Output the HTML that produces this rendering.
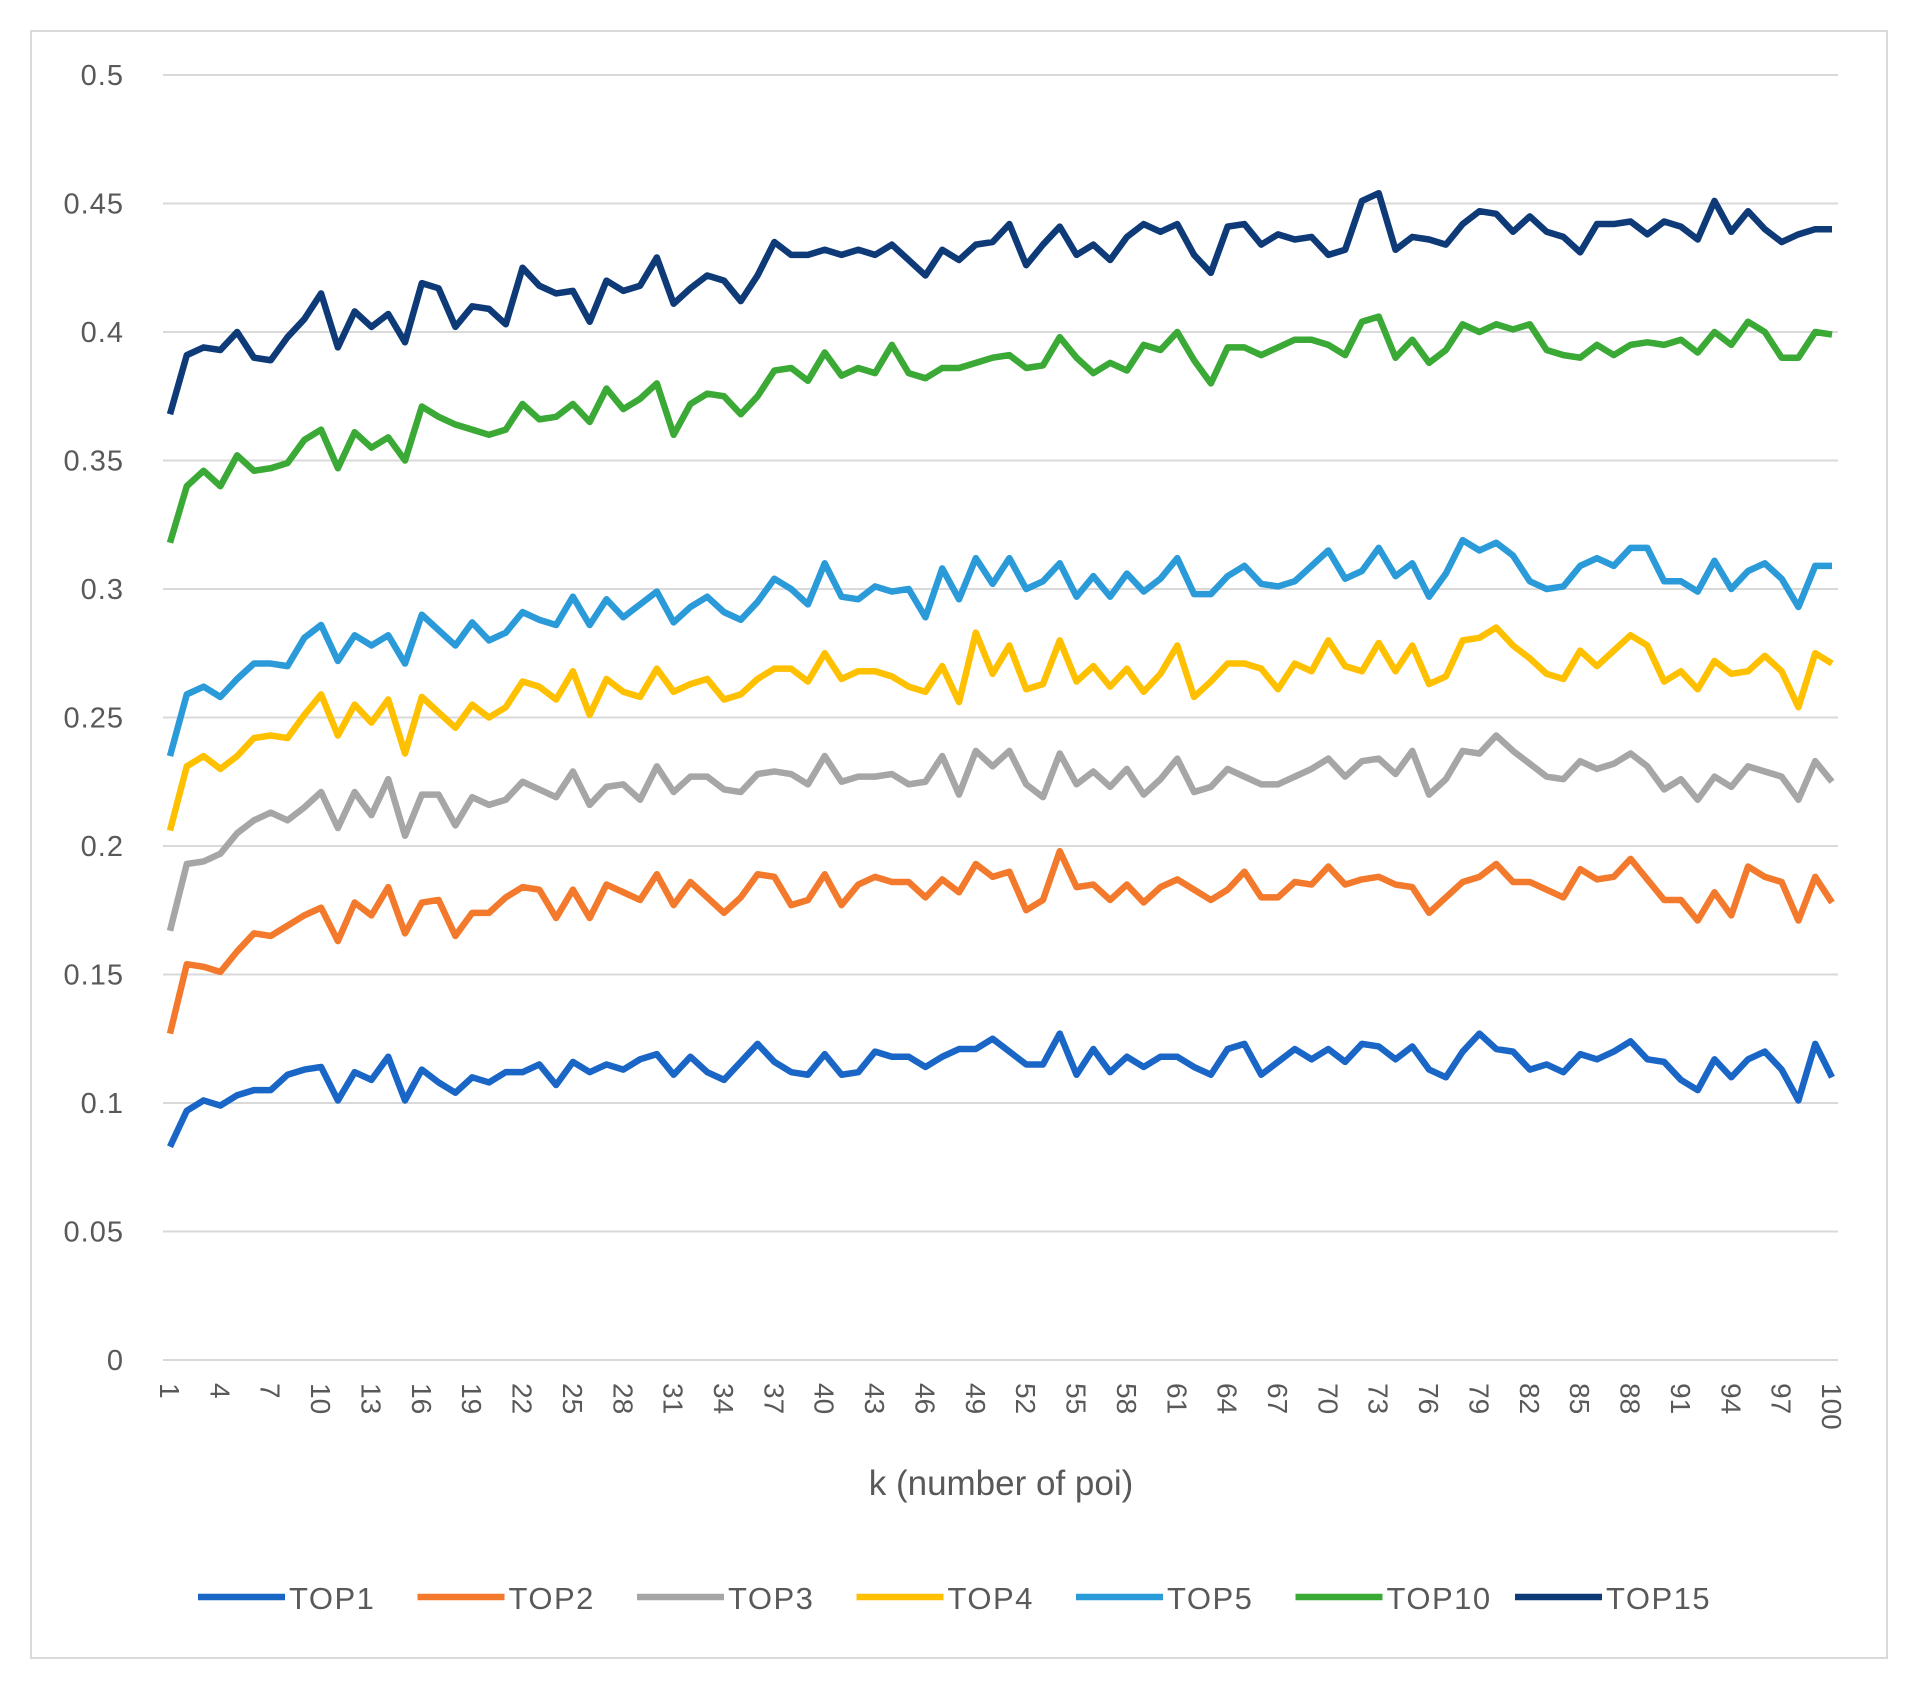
<!DOCTYPE html>
<html><head><meta charset="utf-8"><style>
body{margin:0;background:#fff;}
svg text{font-family:"Liberation Sans",sans-serif;fill:#595959;}
</style></head><body>
<svg id="chart" width="1909" height="1685" viewBox="0 0 1909 1685" xmlns="http://www.w3.org/2000/svg">
<rect x="31" y="31" width="1856" height="1627" fill="#fff" stroke="#d9d9d9" stroke-width="2"/>
<g id="grid"></g><g id="ylabels"></g><g id="xlabels"></g><g id="series"></g>
<text x="1001" y="1495" font-size="35" text-anchor="middle">k (number of poi)</text>
<g id="legend"></g>
</svg>
<script>
const seriesNames=["TOP1","TOP2","TOP3","TOP4","TOP5","TOP10","TOP15"];
const yTicks=[0,0.05,0.1,0.15,0.2,0.25,0.3,0.35,0.4,0.45,0.5];
const yTickLabels=["0","0.05","0.1","0.15","0.2","0.25","0.3","0.35","0.4","0.45","0.5"];
const top1=[.083,.097,.101,.099,.103,.105,.105,.111,.113,.114,.101,.112,.109,.118,.101,.113,.108,.104,.110,.108,.112,.112,.115,.107,.116,.112,.115,.113,.117,.119,.111,.118,.112,.109,.116,.123,.116,.112,.111,.119,.111,.112,.120,.118,.118,.114,.118,.121,.121,.125,.120,.115,.115,.127,.111,.121,.112,.118,.114,.118,.118,.114,.111,.121,.123,.111,.116,.121,.117,.121,.116,.123,.122,.117,.122,.113,.110,.120,.127,.121,.120,.113,.115,.112,.119,.117,.120,.124,.117,.116,.109,.105,.117,.110,.117,.120,.113,.101,.123,.110];
const top2=[.127,.154,.153,.151,.159,.166,.165,.169,.173,.176,.163,.178,.173,.184,.166,.178,.179,.165,.174,.174,.180,.184,.183,.172,.183,.172,.185,.182,.179,.189,.177,.186,.180,.174,.180,.189,.188,.177,.179,.189,.177,.185,.188,.186,.186,.180,.187,.182,.193,.188,.190,.175,.179,.198,.184,.185,.179,.185,.178,.184,.187,.183,.179,.183,.190,.180,.180,.186,.185,.192,.185,.187,.188,.185,.184,.174,.180,.186,.188,.193,.186,.186,.183,.180,.191,.187,.188,.195,.187,.179,.179,.171,.182,.173,.192,.188,.186,.171,.188,.178];
const top3=[.167,.193,.194,.197,.205,.210,.213,.210,.215,.221,.207,.221,.212,.226,.204,.220,.220,.208,.219,.216,.218,.225,.222,.219,.229,.216,.223,.224,.218,.231,.221,.227,.227,.222,.221,.228,.229,.228,.224,.235,.225,.227,.227,.228,.224,.225,.235,.220,.237,.231,.237,.224,.219,.236,.224,.229,.223,.230,.220,.226,.234,.221,.223,.230,.227,.224,.224,.227,.230,.234,.227,.233,.234,.228,.237,.220,.226,.237,.236,.243,.237,.232,.227,.226,.233,.230,.232,.236,.231,.222,.226,.218,.227,.223,.231,.229,.227,.218,.233,.225];
const top4=[.206,.231,.235,.230,.235,.242,.243,.242,.251,.259,.243,.255,.248,.257,.236,.258,.252,.246,.255,.250,.254,.264,.262,.257,.268,.251,.265,.260,.258,.269,.260,.263,.265,.257,.259,.265,.269,.269,.264,.275,.265,.268,.268,.266,.262,.260,.270,.256,.283,.267,.278,.261,.263,.280,.264,.270,.262,.269,.260,.267,.278,.258,.264,.271,.271,.269,.261,.271,.268,.280,.270,.268,.279,.268,.278,.263,.266,.280,.281,.285,.278,.273,.267,.265,.276,.270,.276,.282,.278,.264,.268,.261,.272,.267,.268,.274,.268,.254,.275,.271];
const top5=[.235,.259,.262,.258,.265,.271,.271,.270,.281,.286,.272,.282,.278,.282,.271,.290,.284,.278,.287,.280,.283,.291,.288,.286,.297,.286,.296,.289,.294,.299,.287,.293,.297,.291,.288,.295,.304,.300,.294,.310,.297,.296,.301,.299,.300,.289,.308,.296,.312,.302,.312,.300,.303,.310,.297,.305,.297,.306,.299,.304,.312,.298,.298,.305,.309,.302,.301,.303,.309,.315,.304,.307,.316,.305,.310,.297,.306,.319,.315,.318,.313,.303,.300,.301,.309,.312,.309,.316,.316,.303,.303,.299,.311,.300,.307,.310,.304,.293,.309,.309];
const top10=[.318,.340,.346,.340,.352,.346,.347,.349,.358,.362,.347,.361,.355,.359,.350,.371,.367,.364,.362,.360,.362,.372,.366,.367,.372,.365,.378,.370,.374,.380,.360,.372,.376,.375,.368,.375,.385,.386,.381,.392,.383,.386,.384,.395,.384,.382,.386,.386,.388,.390,.391,.386,.387,.398,.390,.384,.388,.385,.395,.393,.400,.389,.380,.394,.394,.391,.394,.397,.397,.395,.391,.404,.406,.390,.397,.388,.393,.403,.400,.403,.401,.403,.393,.391,.390,.395,.391,.395,.396,.395,.397,.392,.400,.395,.404,.400,.390,.390,.400,.399];
const top15=[.368,.391,.394,.393,.400,.390,.389,.398,.405,.415,.394,.408,.402,.407,.396,.419,.417,.402,.410,.409,.403,.425,.418,.415,.416,.404,.420,.416,.418,.429,.411,.417,.422,.420,.412,.422,.435,.430,.430,.432,.430,.432,.430,.434,.428,.422,.432,.428,.434,.435,.442,.426,.434,.441,.430,.434,.428,.437,.442,.439,.442,.430,.423,.441,.442,.434,.438,.436,.437,.430,.432,.451,.454,.432,.437,.436,.434,.442,.447,.446,.439,.445,.439,.437,.431,.442,.442,.443,.438,.443,.441,.436,.451,.439,.447,.440,.435,.438,.440,.440];
const allSeries=[top1,top2,top3,top4,top5,top10,top15];
const colors=["#1a66c6","#f37a2c","#a6a6a6","#ffc000","#2a9bd8","#3aa935","#0e3a78"];
const NS="http://www.w3.org/2000/svg";
const X0=170,X1=1832,Y0=1360,Y1=75;
function xs(i){return X0+(X1-X0)*i/99;}
function ys(v){return Y0-(Y0-Y1)*v/0.5;}
function mk(t,a,p){const e=document.createElementNS(NS,t);for(const k in a)e.setAttribute(k,a[k]);p.appendChild(e);return e;}
const grid=document.getElementById('grid'),yl=document.getElementById('ylabels'),xl=document.getElementById('xlabels'),sg=document.getElementById('series'),lg=document.getElementById('legend');
yTicks.forEach((v,i)=>{
 const l=mk('line',{x1:163,x2:1838,y1:ys(v),y2:ys(v),stroke:'#d9d9d9','stroke-width':2},grid);
 
 
 const t=mk('text',{x:124,y:ys(v)+10,'font-size':29,'text-anchor':'end','letter-spacing':1},yl);
 t.textContent=yTickLabels[i];
 
 
});
for(let k=1;k<=100;k++){
 if((k-1)%3!==0&&k!==100)continue;
 const x=xs(k-1);
 const t=mk('text',{x:0,y:0,'font-size':28,transform:`translate(${x-10},1383) rotate(90)`},xl);
 t.textContent=String(k);
 
 
}
allSeries.forEach((d,s)=>{
 const p=mk('polyline',{points:d.map((v,i)=>xs(i)+','+ys(v)).join(' '),fill:'none',stroke:colors[s],'stroke-width':6.5,'stroke-linejoin':'round'},sg);
 
 
 const lx=198+s*219.5;
 const ll=mk('line',{x1:lx,x2:lx+87,y1:1597,y2:1597,stroke:colors[s],'stroke-width':6.5},lg);
 
 
 const lt=mk('text',{x:lx+91,y:1609,'font-size':31,'letter-spacing':1.5},lg);
 lt.textContent=seriesNames[s];
 
 
});
</script>
</body></html>
